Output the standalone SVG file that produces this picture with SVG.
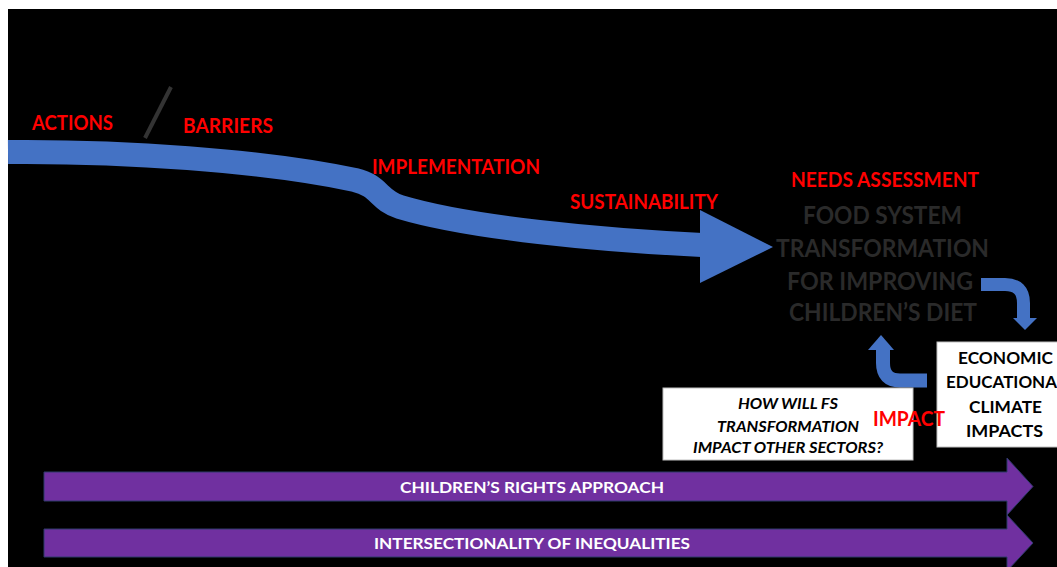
<svg xmlns="http://www.w3.org/2000/svg" width="1057" height="567" viewBox="0 0 1057 567">
<style>
.red{font-family:Lato,"Liberation Sans",sans-serif;font-weight:bold;fill:#FF0000;font-size:20px}
.gray{font-family:Lato,"Liberation Sans",sans-serif;font-weight:bold;fill:#2A2A2A;font-size:24px}
.blk{font-family:Lato,"Liberation Sans",sans-serif;font-weight:bold;fill:#000;font-size:17px}
.ital{font-family:Lato,"Liberation Sans",sans-serif;font-weight:bold;font-style:italic;fill:#000;font-size:16px}
.wht{font-family:Lato,"Liberation Sans",sans-serif;font-weight:bold;fill:#fff;font-size:16px}
.purple{fill:#7030A0;stroke:#2E3B6B;stroke-width:1}
.blue{fill:none;stroke:#4472C4}
.box{fill:#fff;stroke:#BFBFBF;stroke-width:1}
</style>
<rect x="0" y="0" width="1057" height="567" fill="#fff"/>
<rect x="8" y="9" width="1049" height="558" fill="#000"/>
<g id="connectors">
<path class="blue" stroke-width="24" d="M 8 152 C 120 151 260 160 355 180 C 380 186 378 200 400 207 C 470 228 600 240 702 245"/>
<polygon fill="#4472C4" points="700,210 773,247 700,283"/>
<path class="blue" stroke-width="13" d="M 981 284.5 H 1005 Q 1023.5 284.5 1023.5 303 V 319"/>
<polygon fill="#4472C4" points="1013,318 1037,318 1025,330"/>
<path class="blue" stroke-width="14" d="M 927 380.5 H 900 Q 883 380.5 883 363 V 349"/>
<polygon fill="#4472C4" points="868,350 894,350 881,335"/>
<line x1="145" y1="138" x2="171" y2="87" stroke="#333" stroke-width="4"/>
</g>
<g id="actions"><text class="red" x="32" y="130" textLength="81" lengthAdjust="spacingAndGlyphs">ACTIONS</text></g>
<g id="barriers"><text class="red" x="183" y="133" textLength="90" lengthAdjust="spacingAndGlyphs">BARRIERS</text></g>
<g id="implementation"><text class="red" x="372" y="174" textLength="168" lengthAdjust="spacingAndGlyphs">IMPLEMENTATION</text></g>
<g id="sustainability"><text class="red" x="570" y="209" textLength="148" lengthAdjust="spacingAndGlyphs">SUSTAINABILITY</text></g>
<g id="needs"><text class="red" x="791" y="187" textLength="188" lengthAdjust="spacingAndGlyphs">NEEDS ASSESSMENT</text></g>
<g id="fst">
<text class="gray" x="803" y="224" textLength="159" lengthAdjust="spacingAndGlyphs">FOOD SYSTEM</text>
<text class="gray" x="776" y="257" textLength="213" lengthAdjust="spacingAndGlyphs">TRANSFORMATION</text>
<text class="gray" x="787" y="290" textLength="186" lengthAdjust="spacingAndGlyphs">FOR IMPROVING</text>
<text class="gray" x="789" y="321" textLength="188" lengthAdjust="spacingAndGlyphs">CHILDREN’S DIET</text>
</g>
<g id="impacts-box">
<rect class="box" x="937" y="342" width="125" height="105"/>
<text class="blk" x="958" y="364" textLength="95" lengthAdjust="spacingAndGlyphs">ECONOMIC</text>
<text class="blk" x="946" y="388" textLength="111" lengthAdjust="spacingAndGlyphs">EDUCATIONA</text>
<text class="blk" x="969" y="413" textLength="73" lengthAdjust="spacingAndGlyphs">CLIMATE</text>
<text class="blk" x="966" y="437" textLength="77" lengthAdjust="spacingAndGlyphs">IMPACTS</text>
</g>
<g id="question-box">
<rect class="box" x="663" y="388" width="250" height="72"/>
<text class="ital" x="738" y="409" textLength="100" lengthAdjust="spacingAndGlyphs">HOW WILL FS</text>
<text class="ital" x="717" y="432" textLength="142" lengthAdjust="spacingAndGlyphs">TRANSFORMATION</text>
<text class="ital" x="693" y="453" textLength="190" lengthAdjust="spacingAndGlyphs">IMPACT OTHER SECTORS?</text>
</g>
<g id="impact"><text class="red" style="font-size:21px" x="873" y="426" textLength="72" lengthAdjust="spacingAndGlyphs">IMPACT</text></g>
<g id="rights">
<polygon class="purple" points="44,472 1007,472 1007,458 1033,486.5 1007,515 1007,501 44,501"/>
<text class="wht" x="400" y="493" textLength="264" lengthAdjust="spacingAndGlyphs">CHILDREN’S RIGHTS APPROACH</text>
</g>
<g id="intersectionality">
<polygon class="purple" points="44,529 1007,529 1007,515 1033,543 1007,571 1007,557 44,557"/>
<text class="wht" x="374" y="549" textLength="316" lengthAdjust="spacingAndGlyphs">INTERSECTIONALITY OF INEQUALITIES</text>
</g>
</svg>
